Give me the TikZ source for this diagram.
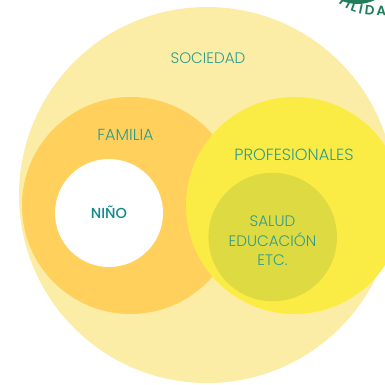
\documentclass[tikz,border=0pt]{standalone}
\usepackage{fontspec}
\setmainfont{Poppins Light}
\newfontfamily\arcfont{Poppins SemiBold}
\newfontfamily\ninofont{Poppins Medium}
\usetikzlibrary{decorations.text}
\definecolor{soc}{HTML}{FBECA6}
\definecolor{fam}{HTML}{FFD05C}
\definecolor{pro}{HTML}{FBEC45}
\definecolor{sal}{HTML}{DEDA42}
\definecolor{tealt}{HTML}{2F9C8C}
\definecolor{teald}{HTML}{0F8A8C}
\definecolor{gr}{HTML}{1F7F5A}
\tikzset{x=1pt,y=-1pt,
 disc/.style={circle,inner sep=0pt,minimum size=#1pt},
 lab/.style={text=tealt,font=\fontsize{15.2}{19.5}\selectfont,align=center,inner sep=0pt}}
\begin{document}
\begin{tikzpicture}
\useasboundingbox (0,0) rectangle (385,385);
\begin{scope}
\clip (0,0) rectangle (385,385);
\node[disc=376,fill=soc] (s) at (207,195) {};
\node[disc=217,fill=fam] (f) at (130.5,205.5) {};
\node[disc=217,fill=pro] (p) at (294.5,205.5) {};
\node[disc=108,fill=white] (n) at (109,213) {};
\node[disc=128.5,fill=sal] (e) at (272.7,237) {};
\node[disc=80,fill=gr] (g) at (357.5,-36) {};
\coordinate (a0) at (337,1);
\coordinate (a1) at (386,16);
\path[decorate,decoration={text along path,text={|\arcfont\fontsize{13.5}{13.5}\selectfont\color{gr}|TILIDA},text align={fit to path}}]
  (a0) .. controls (346,13) and (365,16) .. (a1);
\end{scope}
\node[lab] (t1) at (208,58) {SOCIEDAD};
\node[lab,font=\fontsize{16}{19.5}\selectfont] (t2) at (125.5,135) {FAMILIA};
\node[lab,font=\fontsize{16.2}{19.5}\selectfont] (t3) at (294,155) {PROFESIONALES};
\node[lab,text=teald,font=\ninofont\fontsize{14.5}{19}\selectfont] (t4) at (109,212) {NIÑO};
\node[lab] (t5) at (272.5,241) {SALUD\\EDUCACIÓN\\ETC.};
\end{tikzpicture}
\end{document}
